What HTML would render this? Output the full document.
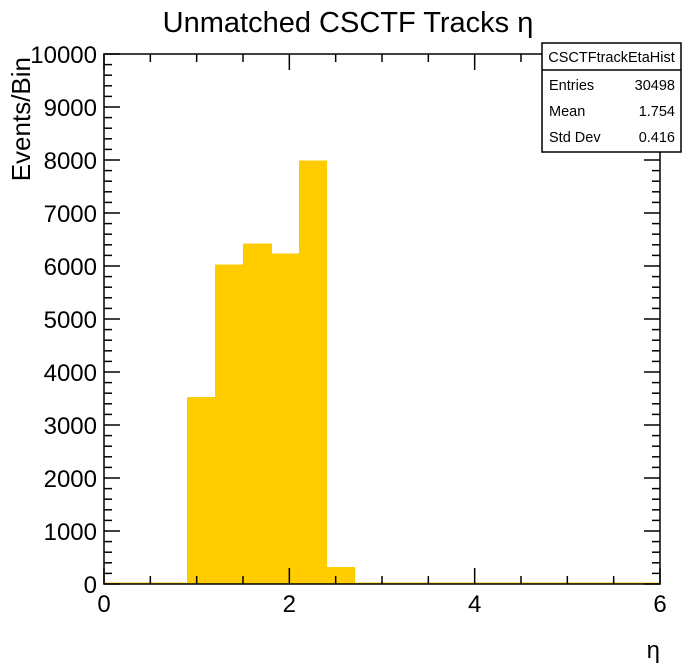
<!DOCTYPE html>
<html><head><meta charset="utf-8"><style>
body{margin:0;background:#fff;}
svg{display:block;font-family:"Liberation Sans",sans-serif;}
</style></head><body>
<svg id="c" width="696" height="672">
<text x="348" y="32" font-size="29" text-anchor="middle">Unmatched CSCTF Tracks η</text>
<text transform="translate(30,57) rotate(-90)" font-size="26" text-anchor="end">Events/Bin</text>
<text x="660" y="658" font-size="24" text-anchor="end">η</text>
<g id="bars" shape-rendering="crispEdges"></g>
<g id="axes"></g>
<g>
<rect x="542" y="43" width="139" height="109" fill="#fff" stroke="#000" stroke-width="1.5"/>
<line x1="542" y1="70" x2="681" y2="70" stroke="#000" stroke-width="1.5"/>
<text x="611.5" y="62" font-size="14.5" text-anchor="middle">CSCTFtrackEtaHist</text>
<text x="549" y="90" font-size="14.5">Entries</text><text x="675" y="90" font-size="14.5" text-anchor="end">30498</text>
<text x="549" y="116" font-size="14.5">Mean</text><text x="675" y="116" font-size="14.5" text-anchor="end">1.754</text>
<text x="549" y="142" font-size="14.5">Std Dev</text><text x="675" y="142" font-size="14.5" text-anchor="end">0.416</text>
</g>
</svg>
<script>
const binEdges=[0.9,1.2,1.5,1.8,2.1,2.4,2.7];
const counts=[3530,6030,6420,6240,7990,320];
const xTickLabels=["0","2","4","6"];
const yTickLabels=["0","1000","2000","3000","4000","5000","6000","7000","8000","9000","10000"];
const L=104,R=660,T=54,B=584,xmin=0,xmax=6,ymax=10000;
const sx=v=>L+(v-xmin)/(xmax-xmin)*(R-L);
const sy=v=>B-v/ymax*(B-T);
const NS="http://www.w3.org/2000/svg";
function mk(t,a,p){const e=document.createElementNS(NS,t);for(const k in a)e.setAttribute(k,a[k]);p.appendChild(e);return e;}
const bars=document.getElementById('bars');
mk('line',{x1:L,y1:B-1,x2:R,y2:B-1,stroke:'#ffcc00','stroke-width':1},bars);
counts.forEach((c,i)=>{
 const x0=Math.round(sx(binEdges[i])),x1=Math.round(sx(binEdges[i+1]))+1;
 const r=mk('rect',{x:x0,y:sy(c),width:x1-x0,height:B-sy(c),fill:'#ffcc00'},bars);
 
 
});
const ax=document.getElementById('axes');
mk('rect',{x:L,y:T,width:R-L,height:B-T,fill:'none',stroke:'#000','stroke-width':1.5},ax);
for(let v=0;v<=6.001;v+=0.5){
 const x=sx(v),len=(Math.abs(v/2-Math.round(v/2))<1e-6)?16:8;
 mk('line',{x1:x,y1:B,x2:x,y2:B-len,stroke:'#000','stroke-width':1.5},ax);
 mk('line',{x1:x,y1:T,x2:x,y2:T+len,stroke:'#000','stroke-width':1.5},ax);
}
xTickLabels.forEach(s=>{const t=mk('text',{x:sx(+s),y:B+28,'font-size':24,'text-anchor':'middle'},ax);t.textContent=s;
 });
for(let v=0;v<=10000;v+=200){
 const y=sy(v),len=(v%1000===0)?16:8;
 mk('line',{x1:L,y1:y,x2:L+len,y2:y,stroke:'#000','stroke-width':1.5},ax);
 mk('line',{x1:R,y1:y,x2:R-len,y2:y,stroke:'#000','stroke-width':1.5},ax);
}
yTickLabels.forEach(s=>{const t=mk('text',{x:L-7,y:sy(+s)+9,'font-size':24,'text-anchor':'end'},ax);t.textContent=s;
 });
</script>
</body></html>
